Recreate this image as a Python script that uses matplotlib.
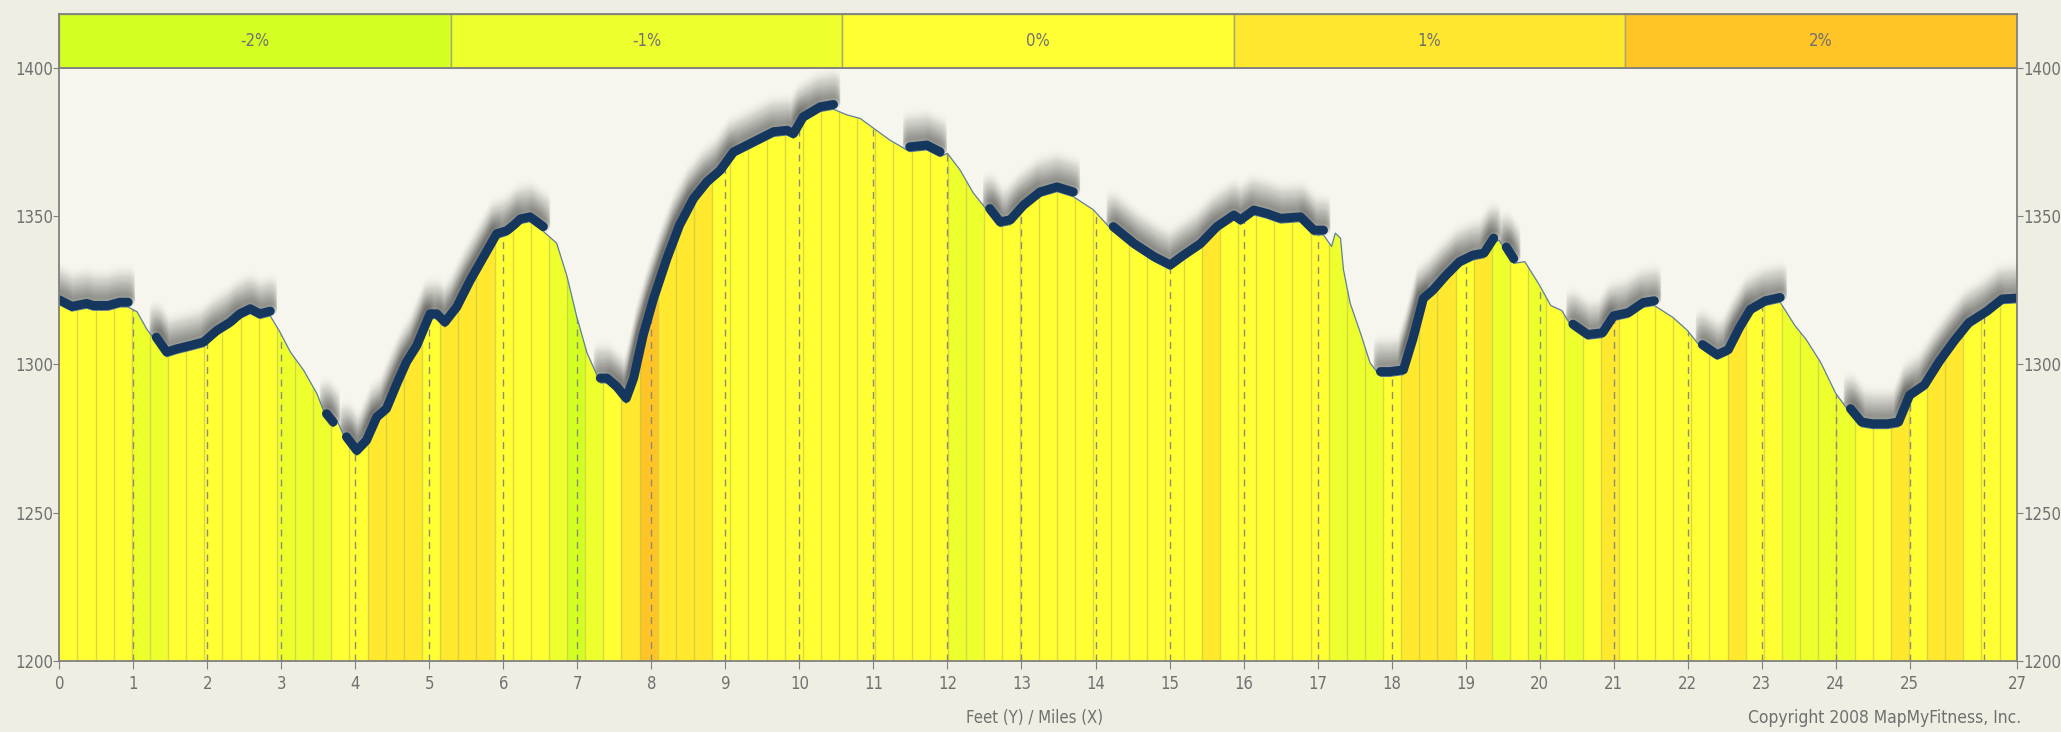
import numpy as np
import matplotlib.pyplot as plt
from matplotlib import font_manager
from matplotlib.patches import Polygon, Rectangle

# elevation profile (miles, feet)
miles = [0.0, 0.17, 0.37, 0.46, 0.66, 0.82, 0.93, 1.05, 1.18, 1.31, 1.45, 1.59, 1.77, 1.95,
         2.13, 2.31, 2.44, 2.58, 2.71, 2.85, 2.98, 3.12, 3.3, 3.48, 3.61, 3.7, 3.75, 3.88,
         4.02, 4.15, 4.29, 4.42, 4.56, 4.69, 4.83, 5.01, 5.1, 5.21, 5.37, 5.55, 5.73, 5.91,
         6.05, 6.14, 6.23, 6.36, 6.54, 6.72, 6.86, 6.99, 7.13, 7.31, 7.4, 7.53, 7.66, 7.76,
         7.89, 8.03, 8.21, 8.38, 8.57, 8.75, 8.93, 9.11, 9.38, 9.65, 9.83, 9.92, 10.05,
         10.28, 10.46, 10.64, 10.82, 11.0, 11.22, 11.49, 11.72, 11.9, 12.0, 12.17, 12.35,
         12.57, 12.71, 12.85, 13.03, 13.25, 13.48, 13.7, 13.97, 14.24, 14.52, 14.79, 15.01,
         15.19, 15.42, 15.64, 15.87, 15.96, 16.14, 16.32, 16.5, 16.77, 16.95, 17.08, 17.19,
         17.24, 17.31, 17.35, 17.44, 17.58, 17.71, 17.85, 17.98, 18.16, 18.29, 18.43, 18.56,
         18.74, 18.92, 19.1, 19.25, 19.38, 19.45, 19.55, 19.65, 19.8, 20.0, 20.15, 20.3,
         20.45, 20.65, 20.85, 21.0, 21.2, 21.4, 21.55, 21.8, 22.0, 22.2, 22.4, 22.55, 22.7,
         22.85, 23.05, 23.25, 23.45, 23.6, 23.8, 24.0, 24.2, 24.35, 24.5, 24.7, 24.85, 25.0,
         25.2, 25.4, 25.6, 25.8, 26.05, 26.25, 26.45]
elevation = [1320.2, 1318, 1319, 1318.3, 1318.3, 1319.4, 1319.4, 1317.8, 1312, 1307.6, 1302.6,
             1303.7, 1304.8, 1306, 1309.9, 1312.7, 1315.5, 1317.2, 1315.5, 1316.4, 1311, 1304.3,
             1298.1, 1290.2, 1281.8, 1279, 1281.2, 1274, 1269.4, 1272.8, 1280.7, 1283.5, 1291.9,
             1299.2, 1304.8, 1315.5, 1315.5, 1312.7, 1317.8, 1326.7, 1334.6, 1342.5, 1343.6,
             1345.4, 1347.5, 1348.2, 1344.9, 1340.9, 1329.7, 1316.2, 1303.9, 1293.8, 1293.8,
             1291, 1287, 1293.8, 1308.4, 1320.7, 1334.2, 1345.4, 1354.4, 1360, 1363.9, 1370.1,
             1373.5, 1376.9, 1377.4, 1376.3, 1381.9, 1385.3, 1386.1, 1384.2, 1383, 1379.7,
             1375.7, 1371.8, 1372.4, 1370.1, 1371.2, 1365.6, 1357.8, 1351, 1346.5, 1347.2,
             1352.2, 1356.6, 1358.3, 1356.6, 1352.2, 1344.9, 1339.2, 1334.8, 1332, 1335.3,
             1339.2, 1344.9, 1348.8, 1347.2, 1350.5, 1349.3, 1347.7, 1348.2, 1343.7, 1343.7,
             1339.8, 1344.3, 1342.6, 1332, 1320.7, 1310.6, 1300.5, 1296, 1296, 1296.6, 1307.2,
             1320.7, 1323.5, 1328.6, 1333.1, 1335.3, 1336, 1341, 1342, 1338, 1334.1, 1334.7,
             1326.7, 1319.9, 1318.2, 1312, 1308.5, 1309.1, 1314.8, 1315.9, 1319.3, 1319.9,
             1315.9, 1311.4, 1305.1, 1301.7, 1303.4, 1310.8, 1317, 1319.9, 1321, 1313.1, 1308.5,
             1300.6, 1290.3, 1283.5, 1279, 1278.4, 1278.4, 1279, 1288.1, 1291.5, 1299.4, 1306.3,
             1312.5, 1316.5, 1320.5, 1320.8]

total_miles = 26.45
strip_width = 0.245

# grade category of each strip (-2 .. 2)
strip_grades = [0, 0, 0, 0, -1, -1, 0, 0, 0, 0, 0, 0, -1, -1, -1, 0, 0, 1, 1, 1,
                0, 1, 1, 1, 0, 0, 0, -1, -2, -1, 0, 1, 2, 1, 1, 1, 0, 0, 0, 0,
                0, 0, 0, 0, 0, 0, 0, 0, 0, -1, -1, 0, 0, 0, 0, 0, 0, 0, 0, 0,
                0, 0, 0, 1, 0, 0, 0, 0, 0, 0, -1, -1, -1, 0, 1, 1, 1, 0, 1, -1,
                0, -1, 0, -1, 0, 1, 0, 0, 0, 0, 0, 0, 1, 0, 0, -1, -1, -1, -1, 0,
                0, 1, 0, 1, 1, 0, 0, 0]

grade_labels = ['-2%', '-1%', '0%', '1%', '2%']
grade_colors = ['#d4ff22', '#eeff2e', '#ffff33', '#ffe82d', '#ffc425']

# highlighted (dark) sections of the profile, in miles
climbs = [(0.0, 0.93), (1.31, 2.85), (3.6, 3.7), (3.88, 6.54), (7.31, 7.4), (7.53, 10.46),
          (11.49, 11.9), (12.57, 13.7), (14.24, 14.52), (14.79, 17.08), (17.85, 19.25),
          (19.25, 19.38), (19.55, 19.65), (20.45, 21.55), (22.2, 23.25), (24.2, 26.45)]

# narrow font like the original, if a condensed DejaVu is around
has_cond = any(f.name == 'DejaVu Sans' and 'condensed' in str(f.stretch)
               for f in font_manager.fontManager.ttflist)
fstretch = 'condensed' if has_cond else 'normal'
fsize = 12 if has_cond else 10.5

m = np.array(miles)
el = np.array(elevation)

fig = plt.figure(figsize=(20.61, 7.32), dpi=100, facecolor='#eeeee2')
ax = fig.add_axes([0.02877, 0.0970, 0.94988, 0.8101])
band = fig.add_axes([0.02877, 0.9071, 0.94988, 0.0738])

ax.set_facecolor('#f6f6ee')
ax.set_xlim(0, total_miles)
ax.set_ylim(1200, 1400)

# area under the profile, used as clip shape for the grade strips
verts = [(0, 1200)] + list(zip(miles, elevation)) + [(miles[-1], 1200)]
area = Polygon(verts, closed=True, facecolor='none', edgecolor='none')
ax.add_patch(area)

bounds = []
for i, g in enumerate(strip_grades):
    x0 = i * strip_width
    w = min(strip_width, total_miles - x0)
    r = Rectangle((x0, 1200), w, 200, facecolor=grade_colors[g + 2], edgecolor='none', zorder=2)
    ax.add_patch(r)
    r.set_clip_path(area)
    if i > 0:
        bounds.append(x0)

sl = ax.vlines(bounds, 1200, 1400, colors='#c8c845', lw=1.0, alpha=0.7, zorder=3)
sl.set_clip_path(area)
ml = ax.vlines(range(1, 27), 1200, 1400, colors='#8c8c78', lw=1.0,
               linestyles=(0, (5, 4)), zorder=3)
ml.set_clip_path(area)

ax.plot(m, el, color='#5f7f99', lw=0.9, zorder=4)

on = np.zeros(len(m), bool)
for a, b in climbs:
    on |= (m >= a) & (m <= b)
navy_y = np.where(on, el + 1.6, np.nan)

# soft shadow above the dark sections, fading upward
n_layers = 28
for k in range(1, n_layers + 1):
    fade = (1 - k / (n_layers + 1)) ** 1.3
    ax.plot(m, navy_y + k * 0.4, color='#1c1c1c', lw=10, alpha=0.065 * fade,
            solid_capstyle='round', solid_joinstyle='round', zorder=1)
ax.plot(m, navy_y, color='#15375d', lw=6.5, solid_capstyle='round',
        solid_joinstyle='round', zorder=5)

tick_col = '#707070'
ax.set_yticks([1200, 1250, 1300, 1350, 1400])
ax.set_xticks(list(range(0, 26)) + [total_miles])
ax.set_xticklabels([str(i) for i in range(0, 26)] + ['27'])
ax.tick_params(axis='y', which='both', left=True, right=True, labelleft=True, labelright=True,
               length=4, pad=0.6, colors='#808080', labelcolor=tick_col, labelsize=fsize)
ax.tick_params(axis='x', length=6, pad=4, colors='#808080', labelcolor=tick_col, labelsize=fsize)
for lab in ax.get_xticklabels():
    lab.set_fontstretch(fstretch)
for t in ax.yaxis.get_major_ticks():
    t.label1.set_fontstretch(fstretch)
    t.label2.set_fontstretch(fstretch)
for s in ax.spines.values():
    s.set_color('#808080')
    s.set_linewidth(1.3)
    s.set_zorder(6)

# grade legend band on top
band.set_xlim(0, 5)
band.set_ylim(0, 1)
for i, (lab, col) in enumerate(zip(grade_labels, grade_colors)):
    band.add_patch(Rectangle((i, 0), 1, 1, facecolor=col, edgecolor='#a8a870', lw=1))
    band.text(i + 0.5, 0.5, lab, ha='center', va='center', color=tick_col,
              fontsize=fsize, fontstretch=fstretch)
band.set_xticks([])
band.set_yticks([])
for s in band.spines.values():
    s.set_color('#808080')
    s.set_linewidth(1.3)

fig.text(0.502, 0.019, 'Feet (Y) / Miles (X)', ha='center', va='center',
         color=tick_col, fontsize=fsize, fontstretch=fstretch)
fig.text(0.9806, 0.019, 'Copyright 2008 MapMyFitness, Inc.', ha='right', va='center',
         color=tick_col, fontsize=fsize + 0.5, fontstretch=fstretch)

fig.savefig('out.png', dpi=100, facecolor=fig.get_facecolor())
